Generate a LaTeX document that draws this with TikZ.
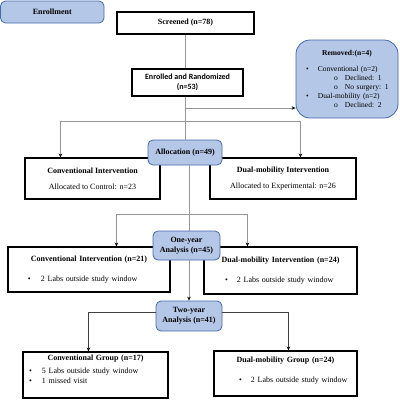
\documentclass[tikz,border=0pt]{standalone}
\usepackage{fontspec}
\setmainfont{Liberation Serif}
\newfontfamily\calibri{Carlito}
\usepackage{xcolor}
\usetikzlibrary{positioning, arrows.meta, arrows}
\definecolor{boxblue}{RGB}{180,199,231}
\definecolor{edgeblue}{RGB}{68,106,170}
\definecolor{linegray}{RGB}{150,150,150}
\newcommand{\bitem}[3]{\hspace*{#1}\makebox[#2][l]{\textbullet}#3}

\begin{document}
\begin{tikzpicture}[x=1pt,y=-1pt,>={Stealth[length=4pt,width=3.5pt,color=black]},
    font=\fontsize{8}{9.6}\selectfont,
    box/.style={draw,line width=1.1pt,fill=white,inner sep=0pt,align=center},
    blue/.style={draw=edgeblue,line width=0.8pt,fill=boxblue,rounded corners=5pt,inner sep=0pt,align=center,font=\fontsize{8}{9.6}\selectfont\bfseries},
    list/.style={box,align=left,text width=#1},
    link/.style={draw=linegray,line width=0.6pt}]
    \useasboundingbox (0,0) rectangle (400,400);

    % enrollment
    \node[blue,minimum width=103.5pt,minimum height=22pt] (enroll) at (52.25,12) {Enrollment};
    \node[box,minimum width=137pt,minimum height=22pt,font=\fontsize{8}{9.6}\selectfont\bfseries] (screened) at (185.5,23) {Screened (n=78)};
    \node[box,minimum width=111pt,minimum height=27pt,font=\calibri\fontsize{8}{9.6}\selectfont\bfseries] (enrolled) at (187.5,82.5) {Enrolled and Randomized\\(n=53)};
    \node[blue,rounded corners=14pt,text width=102pt,minimum height=78pt,align=left,font=\fontsize{7.5}{9}\selectfont] (removed) at (347,79) {%
        \makebox[\linewidth][c]{\textbf{Removed:(n=4)}}\\[7pt]
        \bitem{10pt}{12pt}{Conventional (n=2)}\\
        \hspace*{38pt}\makebox[11pt][l]{o}Declined: 1\\
        \hspace*{38pt}\makebox[11pt][l]{o}No surgery: 1\\
        \bitem{10pt}{12pt}{Dual-mobility (n=2)}\\
        \hspace*{38pt}\makebox[11pt][l]{o}Declined: 2};

    % allocation
    \node[box,minimum width=135pt,minimum height=41pt] (conv1) at (92.5,178.5) {\textbf{Conventional Intervention}\\[6.4pt]Allocated to Control: n=23};
    \node[box,minimum width=146pt,minimum height=41pt] (dual1) at (283,178.5) {\textbf{Dual-mobility Intervention}\\[6.4pt]Allocated to Experimental: n=26};
    \node[blue,minimum width=74pt,minimum height=25pt] (alloc) at (185,152.5) {Allocation (n=49)};

    % one-year
    \node[list=162pt,minimum height=45pt] (conv2) at (89,269.5) {%
        \makebox[\linewidth][c]{\textbf{Conventional Intervention (n=21)}}\\[11pt]
        \bitem{20pt}{13pt}{2 Labs outside study window}};
    \node[list=153pt,minimum height=47pt] (dual2) at (280.5,270.5) {%
        \makebox[\linewidth][c]{\textbf{Dual-mobility Intervention (n=24)}}\\[11pt]
        \bitem{21pt}{12pt}{2 Labs outside study window}};
    \node[blue,minimum width=67pt,minimum height=29pt] (one) at (186.5,245.5) {One-year\\Analysis (n=45)};

    % two-year
    \node[blue,minimum width=66pt,minimum height=30pt] (two) at (189,316) {Two-year\\Analysis (n=41)};
    \node[list=145pt,minimum height=46pt] (conv3) at (95.5,375) {%
        \makebox[\linewidth][c]{\textbf{Conventional Group (n=17)}}\\[3.5pt]
        \bitem{6pt}{13pt}{5 Labs outside study window}\\
        \bitem{6pt}{13pt}{1 missed visit}\rule[-12pt]{0pt}{0pt}};
    \node[list=143pt,minimum height=45pt] (dual3) at (285.5,373.5) {%
        \makebox[\linewidth][c]{\textbf{Dual-mobility Group (n=24)}}\\[10pt]
        \bitem{25pt}{12pt}{2 Labs outside study window}\rule[-8pt]{0pt}{0pt}};

    % connectors
    \coordinate (toremoved) at (185.5,108);
    \coordinate (split1) at (185.5,121);
    \coordinate (split2) at (189,214);
    \draw[link] (screened.south) -- (enrolled.north -| screened.south);
    \draw[link] (enrolled.south -| screened.south) -- (alloc.north -| screened.south);
    \draw[link,->] (toremoved) -- (toremoved -| removed.west);
    \draw[link,->] (split1) -| ([xshift=36pt]conv1.north west);
    \draw[link,->] (split1) -| ([xshift=91pt]dual1.north west);
    \draw[link] (alloc.south -| split2) -- (one.north -| split2);
    \draw[link,->] (split2) -| ([xshift=109pt]conv2.north west);
    \draw[link,->] (split2) -| ([xshift=44pt]dual2.north west);
    \draw[link,->] (one.south -| two.north) -- (two.north);
    \draw[link,draw=black!75,->] ([yshift=4pt]two.west) -| ([xshift=66pt]conv3.north west);
    \draw[link,draw=black!75,->] ([yshift=4pt]two.east) -| ([xshift=75pt]dual3.north west);
\end{tikzpicture}
\end{document}
